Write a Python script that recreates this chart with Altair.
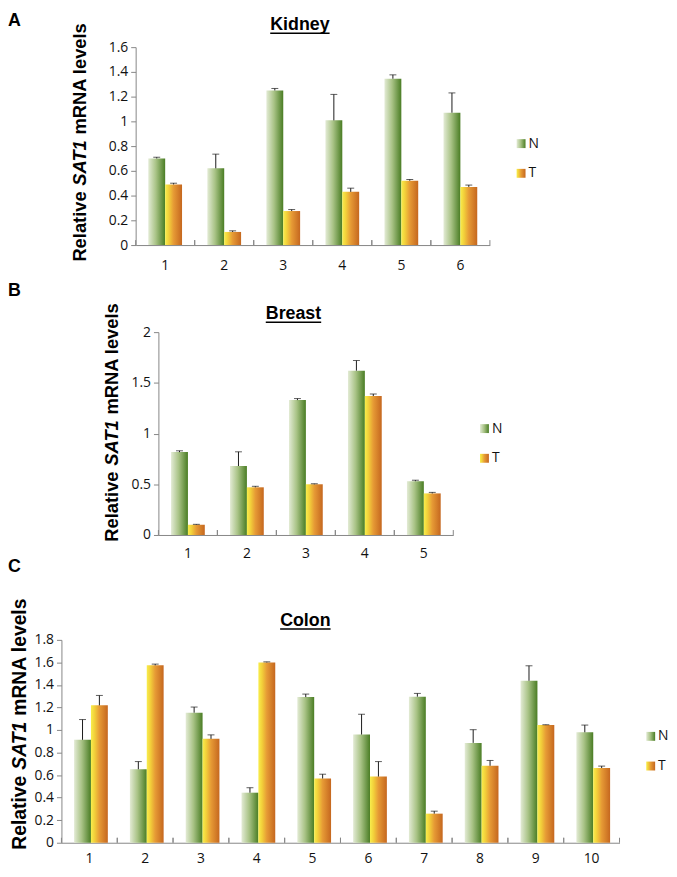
import altair as alt
import pandas as pd

GROUPS = ["N", "T"]

KIDNEY_CATS = ["1", "2", "3", "4", "5", "6"]
KIDNEY_N = [0.70, 0.62, 1.25, 1.008, 1.345, 1.07]
KIDNEY_N_UP = [0.71, 0.735, 1.266, 1.218, 1.376, 1.23]
KIDNEY_T = [0.49, 0.106, 0.275, 0.43, 0.52, 0.47]
KIDNEY_T_UP = [0.50, 0.115, 0.287, 0.46, 0.53, 0.485]
KIDNEY_TICKS = [0, 0.2, 0.4, 0.6, 0.8, 1.0, 1.2, 1.4, 1.6]

BREAST_CATS = ["1", "2", "3", "4", "5"]
BREAST_N = [0.817, 0.68, 1.33, 1.62, 0.53]
BREAST_N_UP = [0.83, 0.82, 1.345, 1.72, 0.54]
BREAST_T = [0.10, 0.47, 0.50, 1.37, 0.41]
BREAST_T_UP = [0.105, 0.48, 0.505, 1.39, 0.42]
BREAST_TICKS = [0, 0.5, 1.0, 1.5, 2.0]

COLON_CATS = ["1", "2", "3", "4", "5", "6", "7", "8", "9", "10"]
COLON_N = [0.913, 0.652, 1.154, 0.444, 1.292, 0.96, 1.296, 0.886, 1.437, 0.98]
COLON_N_UP = [1.093, 0.72, 1.204, 0.488, 1.319, 1.14, 1.325, 1.003, 1.57, 1.044]
COLON_T = [1.219, 1.574, 0.922, 1.60, 0.57, 0.587, 0.258, 0.683, 1.044, 0.663]
COLON_T_UP = [1.307, 1.585, 0.957, 1.605, 0.608, 0.72, 0.28, 0.73, 1.047, 0.68]
COLON_TICKS = [0, 0.2, 0.4, 0.6, 0.8, 1.0, 1.2, 1.4, 1.6, 1.8]

BOLD_FONT = "Liberation Sans"
LABEL_FONT = "Open Sans"
AXIS_GRAY = "#868686"
LEFT = -54  # left edge of every row, relative to the shared plot origin


def grad(stops):
    return alt.Gradient(
        gradient="linear", x1=0, y1=0, x2=1, y2=0,
        stops=[alt.GradientStop(offset=o, color=c) for o, c in stops],
    )


FILLS = {
    "N": grad([(0, "#e3ebd5"), (0.45, "#a9c386"), (1, "#4a7d24")]),
    "T": grad([(0, "#f8ee4c"), (0.22, "#f2cf3a"), (0.5, "#e69a35"), (1, "#c5671f")]),
}


def one(value):
    return pd.DataFrame({"t": [value]})


def panel(cats, n, n_up, t, t_up, ticks, h, cfg):
    x0, x1 = cfg["xrange"]
    df = pd.DataFrame({
        "cat": cats * 2,
        "g": ["N"] * len(cats) + ["T"] * len(cats),
        "val": n + t,
        "up": n_up + t_up,
    })
    xscale = alt.Scale(paddingInner=0, paddingOuter=0, range=[x0, x1])
    xaxis = alt.Axis(
        title=None, labelAngle=0, ticks=False, labelPadding=cfg["xpad"],
        domainColor=AXIS_GRAY, labelFont=LABEL_FONT, labelFontSize=14,
        labelColor="#111111",
    )
    yscale = alt.Scale(domain=[ticks[0], ticks[-1]], nice=False)
    yaxis = alt.Axis(
        title=None, values=ticks, format="~g", grid=False, offset=-x0,
        domainColor=AXIS_GRAY, tickColor=AXIS_GRAY, tickSize=5,
        labelPadding=3, labelFont=LABEL_FONT, labelFontSize=14,
        labelColor="#111111", labelFlush=False, labelOverlap=False,
    )
    x = alt.X("cat:O", sort=cats, scale=xscale, axis=xaxis)
    xo = alt.XOffset(
        "g:N", scale=alt.Scale(domain=GROUPS, paddingOuter=0.75, paddingInner=0)
    )
    base = alt.Chart(df)
    layers = []
    for g in GROUPS:
        layers.append(
            base.transform_filter(alt.datum.g == g)
            .mark_bar(fill=FILLS[g])
            .encode(x=x, xOffset=xo, y=alt.Y("val:Q", scale=yscale, axis=yaxis))
        )
    layers.append(
        base.mark_rule(color="#1a1a1a", strokeWidth=1).encode(
            x=x, xOffset=xo, y=alt.Y("val:Q", scale=yscale, axis=yaxis), y2="up:Q"
        )
    )
    layers.append(
        base.mark_tick(orient="horizontal", size=7, thickness=1, color="#1a1a1a").encode(
            x=x, xOffset=xo, y=alt.Y("up:Q", scale=yscale, axis=yaxis)
        )
    )
    # inward category-boundary ticks on the x axis
    first = base.transform_filter(alt.datum.g == "N")
    for bp in (0, 1):
        layers.append(
            first.mark_rule(color=AXIS_GRAY, strokeWidth=1).encode(
                x=alt.X("cat:O", sort=cats, scale=xscale, axis=xaxis, bandPosition=bp),
                y=alt.value(h - 5), y2=alt.value(h),
            )
        )
    # panel title with underline
    cx, ty, tw = cfg["title_x"], cfg["title_y"], cfg["title_w"]
    layers.append(
        alt.Chart(one(cfg["title"])).mark_text(
            font=BOLD_FONT, fontSize=18, fontWeight="bold", align="center",
            baseline="alphabetic", color="#000000",
        ).encode(text="t:N", x=alt.value(cx), y=alt.value(ty))
    )
    layers.append(
        alt.Chart(one(cfg["title"])).mark_rule(color="#000000", strokeWidth=1.6).encode(
            x=alt.value(cx - tw / 2), x2=alt.value(cx + tw / 2), y=alt.value(ty + 3)
        )
    )
    # panel letters
    for letter, ly, bl in cfg["letters"]:
        layers.append(
            alt.Chart(one(letter)).mark_text(
                font=BOLD_FONT, fontSize=18, fontWeight="bold", align="left",
                baseline=bl, color="#000000",
            ).encode(text="t:N", x=alt.value(LEFT), y=alt.value(ly))
        )
    # y axis title with italic gene name
    fs = cfg["ytitle_fs"]
    sat_w = 2.556 * fs
    gap = 0.278 * fs
    yx, yc = cfg["ytitle_x"], cfg["ytitle_c"]
    parts = [
        ("Relative", "right", "normal", yc + sat_w / 2 + gap),
        ("SAT1", "center", "italic", yc),
        ("mRNA levels", "left", "normal", yc - sat_w / 2 - gap),
    ]
    for txt, al, st, yy in parts:
        layers.append(
            alt.Chart(one(txt)).mark_text(
                font=BOLD_FONT, fontSize=fs, fontWeight="bold", fontStyle=st,
                align=al, baseline="middle", angle=270, color="#000000",
            ).encode(text="t:N", x=alt.value(yx), y=alt.value(yy))
        )
    # legend
    for i, g in enumerate(GROUPS):
        layers.append(
            alt.Chart(one(g)).mark_rect(fill=FILLS[g]).encode(
                x=alt.value(x1 + 27), x2=alt.value(x1 + 36),
                y=alt.value(93 + 30 * i), y2=alt.value(102 + 30 * i),
            )
        )
        layers.append(
            alt.Chart(one(g)).mark_text(
                font=LABEL_FONT, fontSize=14, align="left", baseline="middle",
                color="#111111",
            ).encode(text="t:N", x=alt.value(x1 + 39), y=alt.value(97.5 + 30 * i))
        )
    # invisible frame fixing this row's outer box
    ftop, fbot = cfg["frame"]
    layers.append(
        alt.Chart(one("")).mark_rule(color="#ffffff", opacity=0).encode(
            x=alt.value(LEFT), y=alt.value(ftop), y2=alt.value(fbot)
        )
    )
    return alt.layer(*layers).properties(width=x1, height=h)


kidney = panel(
    KIDNEY_CATS, KIDNEY_N, KIDNEY_N_UP, KIDNEY_T, KIDNEY_T_UP, KIDNEY_TICKS, 200,
    dict(xrange=(75, 433), xpad=14, title="Kidney", title_x=241, title_y=-17, title_w=60,
         letters=[("A", -35, "top"), ("B", 251, "alphabetic")],
         ytitle_fs=18.5, ytitle_x=19, ytitle_c=117, frame=(-35, 258)),
)
breast = panel(
    BREAST_CATS, BREAST_N, BREAST_N_UP, BREAST_T, BREAST_T_UP, BREAST_TICKS, 205,
    dict(xrange=(98, 396), xpad=12, title="Breast", title_x=234.5, title_y=-13, title_w=56,
         letters=[("C", 242, "alphabetic")],
         ytitle_fs=18.5, ytitle_x=51, ytitle_c=112, frame=(-30, 268)),
)
colon = panel(
    COLON_CATS, COLON_N, COLON_N_UP, COLON_T, COLON_T_UP, COLON_TICKS, 205,
    dict(xrange=(0, 564), xpad=9, title="Colon", title_x=246.5, title_y=-14, title_w=51,
         letters=[],
         ytitle_fs=19.5, ytitle_x=-42, ytitle_c=107, frame=(-42, 200)),
)

chart = (
    alt.vconcat(kidney, breast, colon, spacing=0)
    .properties(padding=0)
    .configure_view(stroke=None)
)

chart.save("out.html", embed_options={"renderer": "svg", "actions": False})
